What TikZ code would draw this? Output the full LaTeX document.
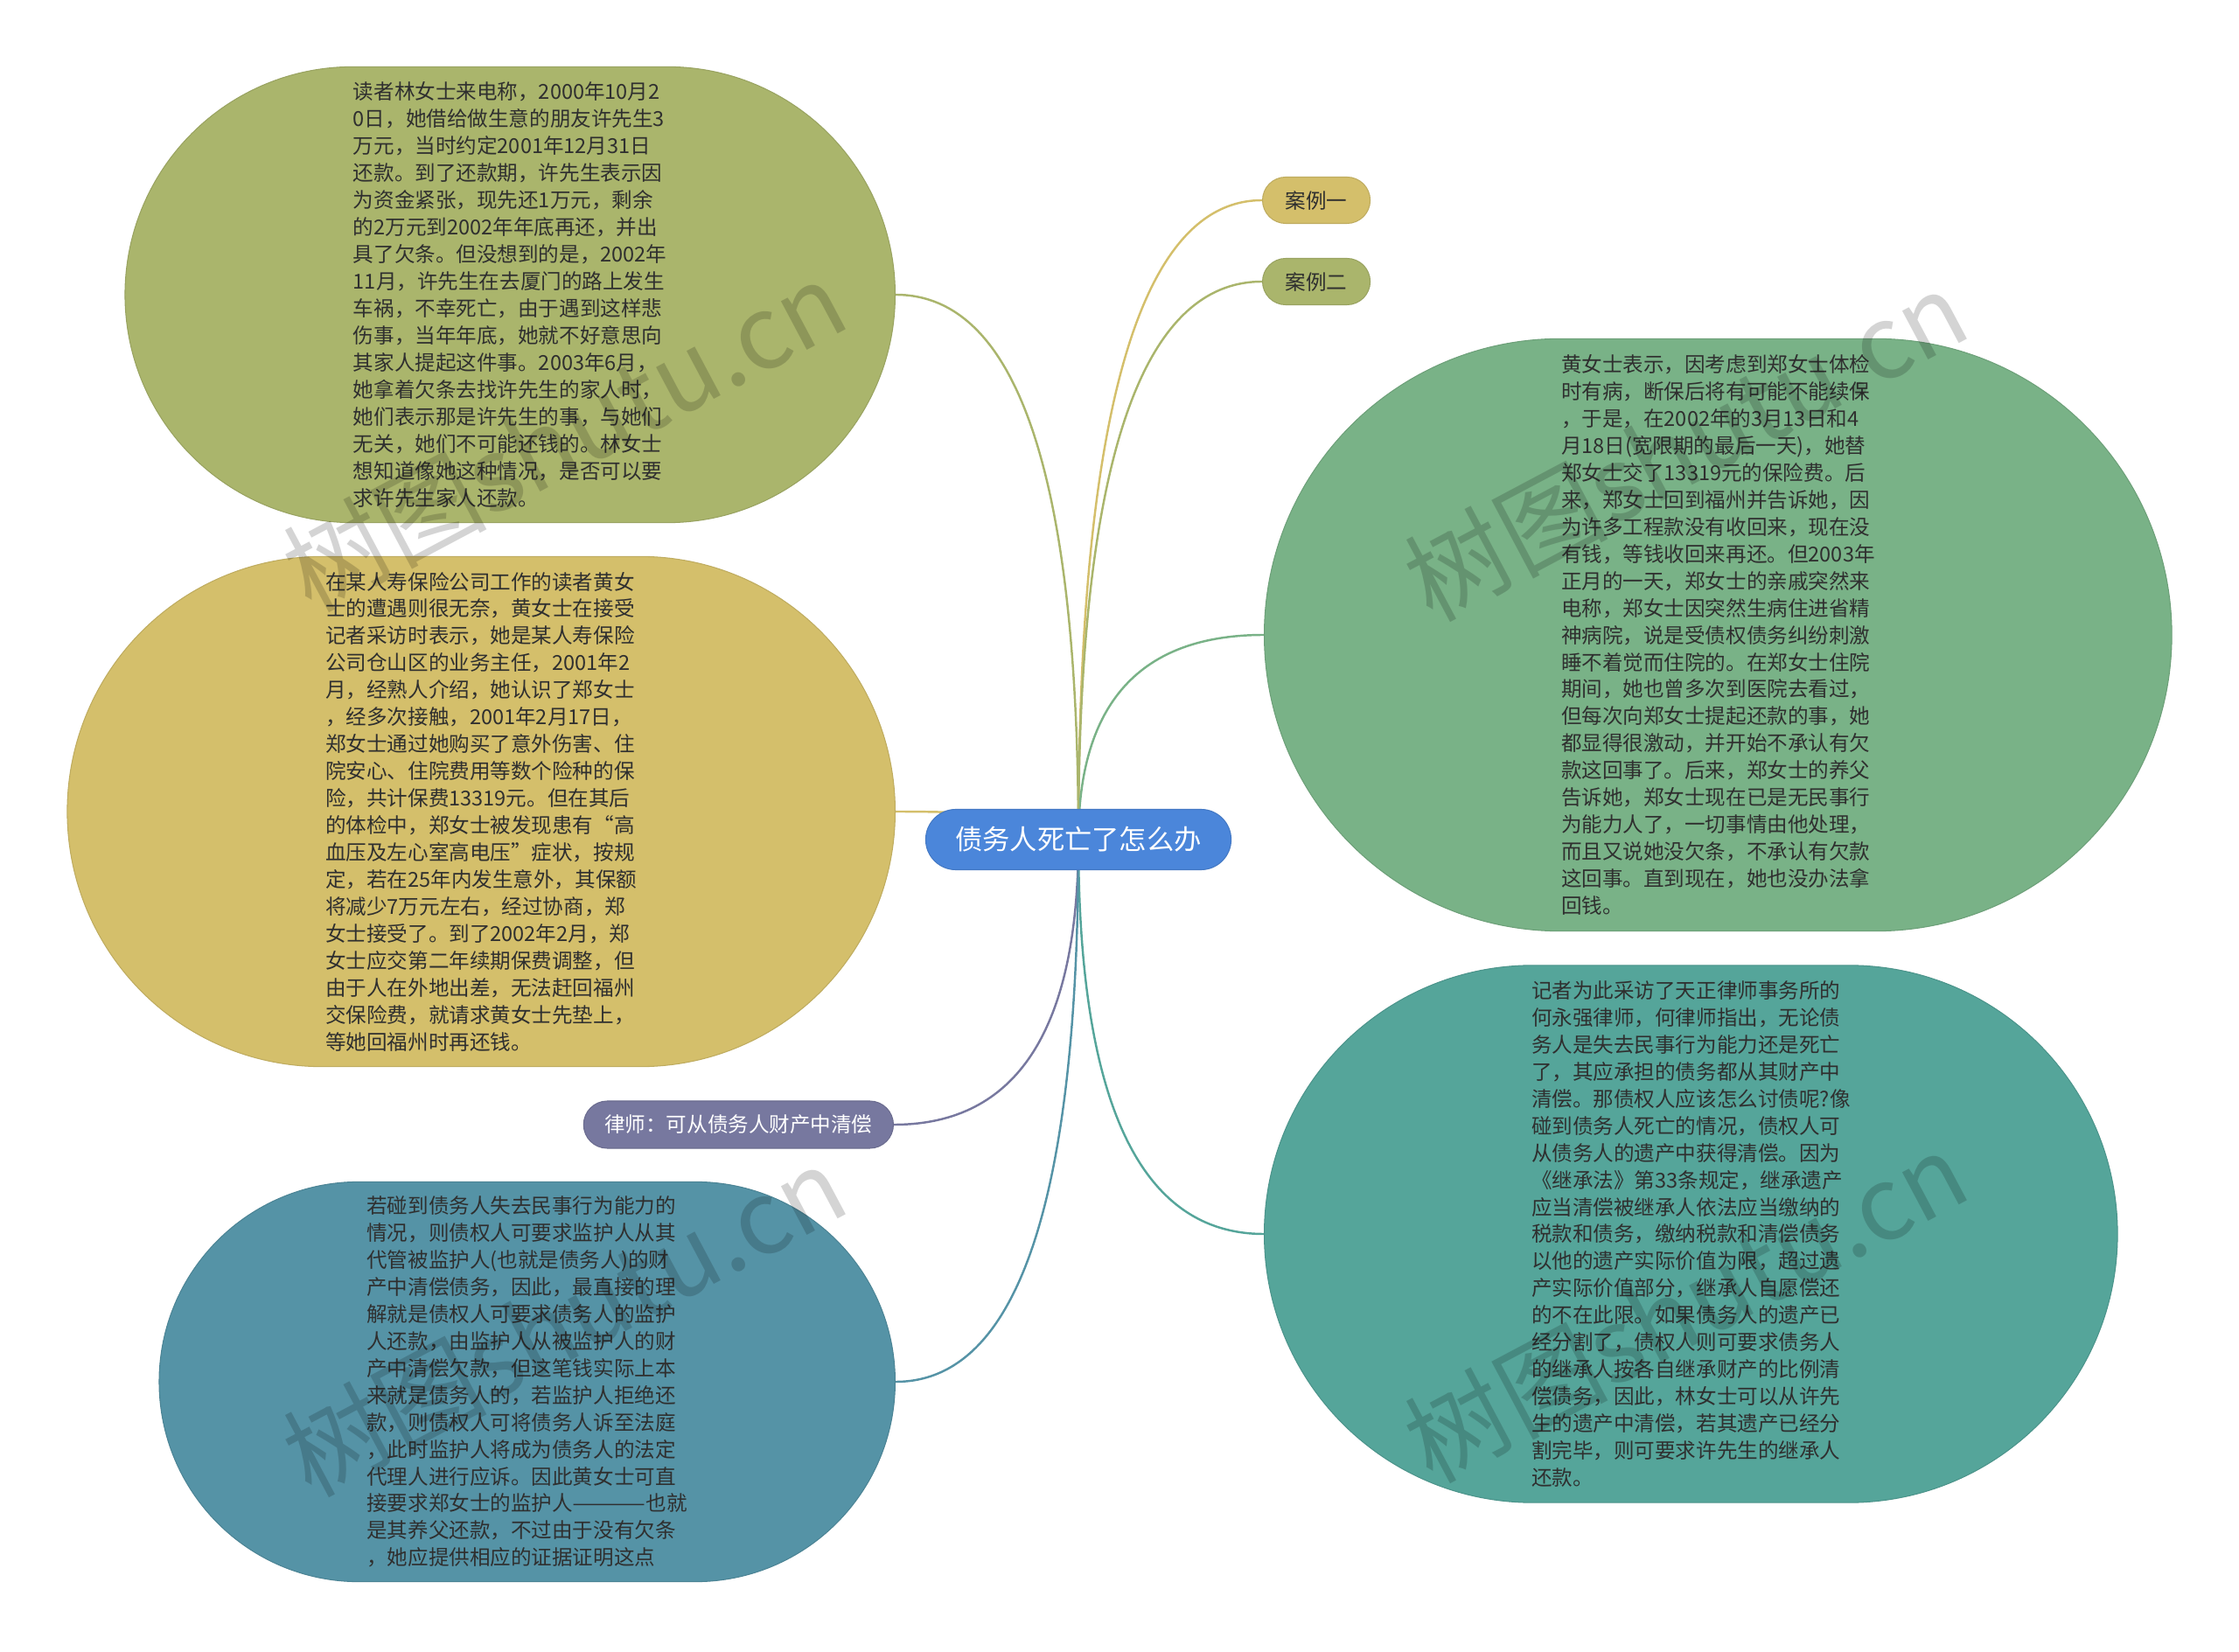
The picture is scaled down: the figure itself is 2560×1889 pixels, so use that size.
\documentclass[tikz,border=0pt]{standalone}
\usepackage{fontspec}
\setmainfont{Noto Sans CJK SC}
\usepackage{xcolor}
\usetikzlibrary{shapes.misc,calc,backgrounds}
\definecolor{mapolive}{HTML}{AAB56C}
\definecolor{mapyellow}{HTML}{D4BF6B}
\definecolor{mapgreen}{HTML}{79B287}
\definecolor{mapteal}{HTML}{55A59A}
\definecolor{mapblue}{HTML}{5593A6}
\definecolor{mappurple}{HTML}{77789F}
\definecolor{maproot}{HTML}{4B86DA}
\definecolor{mapink}{HTML}{2F2F2F}

\begin{document}
\begin{tikzpicture}[
  x=0.01cm,
  y=-0.01cm,
  every node/.style={font=\fontsize{6.7pt}{8.8pt}\selectfont},
  bubble/.style={rounded rectangle, inner sep=0pt, align=left, text=mapink, line width=0.3pt},
  leaf/.style={rounded rectangle, inner sep=0pt, minimum height=0.53cm, line width=0.3pt},
  mapline/.style={line width=0.7pt,
    to path={.. controls ($(\tikztostart)!0.667!(\tikztostart |- \tikztotarget)$)
      and ($(\tikztotarget)!0.667!(\tikztostart |- \tikztotarget)$) .. (\tikztotarget)}},
  wmark/.style={font=\fontsize{33pt}{36pt}\selectfont, text=black, text opacity=0.17, rotate=28}
]
  \useasboundingbox (0,0) rectangle (2560,1889);

  % centre
  \node[rounded rectangle, inner sep=0pt, fill=maproot, draw=maproot!90!black, line width=0.3pt,
        text=white, minimum width=3.49cm, minimum height=0.69cm,
        font=\fontsize{8.9pt}{10pt}\selectfont] (root) at (1233,960) {债务人死亡了怎么办};

  % right side
  \node[leaf, fill=mapyellow, draw=mapyellow!90!black, text=mapink, minimum width=1.23cm,
        anchor=west] (case1) at (1443,229) {案例一};
  \node[leaf, fill=mapolive, draw=mapolive!90!black, text=mapink, minimum width=1.23cm,
        anchor=west] (case2) at (1443,322) {案例二};

  \node[bubble, fill=mapgreen, draw=mapgreen!90!black, minimum width=10.37cm,
        minimum height=6.77cm, anchor=west] (huang) at (1445,726) {%
    黄女士表示，因考虑到郑女士体检\\
    时有病，断保后将有可能不能续保\\
    ，于是，在2002年的3月13日和4\\
    月18日(宽限期的最后一天)，她替\\
    郑女士交了13319元的保险费。后\\
    来，郑女士回到福州并告诉她，因\\
    为许多工程款没有收回来，现在没\\
    有钱，等钱收回来再还。但2003年\\
    正月的一天，郑女士的亲戚突然来\\
    电称，郑女士因突然生病住进省精\\
    神病院，说是受债权债务纠纷刺激\\
    睡不着觉而住院的。在郑女士住院\\
    期间，她也曾多次到医院去看过，\\
    但每次向郑女士提起还款的事，她\\
    都显得很激动，并开始不承认有欠\\
    款这回事了。后来，郑女士的养父\\
    告诉她，郑女士现在已是无民事行\\
    为能力人了，一切事情由他处理，\\
    而且又说她没欠条，不承认有欠款\\
    这回事。直到现在，她也没办法拿\\
    回钱。};

  \node[bubble, fill=mapteal, draw=mapteal!90!black, minimum width=9.75cm,
        minimum height=6.14cm, anchor=west] (lawyer) at (1445,1411) {%
    记者为此采访了天正律师事务所的\\
    何永强律师，何律师指出，无论债\\
    务人是失去民事行为能力还是死亡\\
    了，其应承担的债务都从其财产中\\
    清偿。那债权人应该怎么讨债呢?像\\
    碰到债务人死亡的情况，债权人可\\
    从债务人的遗产中获得清偿。因为\\
    《继承法》第33条规定，继承遗产\\
    应当清偿被继承人依法应当缴纳的\\
    税款和债务，缴纳税款和清偿债务\\
    以他的遗产实际价值为限，超过遗\\
    产实际价值部分，继承人自愿偿还\\
    的不在此限。如果债务人的遗产已\\
    经分割了，债权人则可要求债务人\\
    的继承人按各自继承财产的比例清\\
    偿债务，因此，林女士可以从许先\\
    生的遗产中清偿，若其遗产已经分\\
    割完毕，则可要求许先生的继承人\\
    还款。};

  % left side
  \node[bubble, fill=mapolive, draw=mapolive!90!black, minimum width=8.8cm,
        minimum height=5.21cm, anchor=east] (lin) at (1024,337) {%
    读者林女士来电称，2000年10月2\\
    0日，她借给做生意的朋友许先生3\\
    万元，当时约定2001年12月31日\\
    还款。到了还款期，许先生表示因\\
    为资金紧张，现先还1万元，剩余\\
    的2万元到2002年年底再还，并出\\
    具了欠条。但没想到的是，2002年\\
    11月，许先生在去厦门的路上发生\\
    车祸，不幸死亡，由于遇到这样悲\\
    伤事，当年年底，她就不好意思向\\
    其家人提起这件事。2003年6月，\\
    她拿着欠条去找许先生的家人时，\\
    她们表示那是许先生的事，与她们\\
    无关，她们不可能还钱的。林女士\\
    想知道像她这种情况，是否可以要\\
    求许先生家人还款。};

  \node[bubble, fill=mapyellow, draw=mapyellow!90!black, minimum width=9.46cm,
        minimum height=5.83cm, anchor=east] (insure) at (1024,928) {%
    在某人寿保险公司工作的读者黄女\\
    士的遭遇则很无奈，黄女士在接受\\
    记者采访时表示，她是某人寿保险\\
    公司仓山区的业务主任，2001年2\\
    月，经熟人介绍，她认识了郑女士\\
    ，经多次接触，2001年2月17日，\\
    郑女士通过她购买了意外伤害、住\\
    院安心、住院费用等数个险种的保\\
    险，共计保费13319元。但在其后\\
    的体检中，郑女士被发现患有“高\\
    血压及左心室高电压”症状，按规\\
    定，若在25年内发生意外，其保额\\
    将减少7万元左右，经过协商，郑\\
    女士接受了。到了2002年2月，郑\\
    女士应交第二年续期保费调整，但\\
    由于人在外地出差，无法赶回福州\\
    交保险费，就请求黄女士先垫上，\\
    等她回福州时再还钱。};

  \node[leaf, fill=mappurple, draw=mappurple!90!black, text=white, minimum width=3.54cm,
        minimum height=0.54cm, anchor=east] (advice) at (1022,1286) {律师：可从债务人财产中清偿};

  \node[bubble, fill=mapblue, draw=mapblue!90!black, minimum width=8.41cm,
        minimum height=4.57cm, anchor=east] (guard) at (1024,1580) {%
    若碰到债务人失去民事行为能力的\\
    情况，则债权人可要求监护人从其\\
    代管被监护人(也就是债务人)的财\\
    产中清偿债务，因此，最直接的理\\
    解就是债权人可要求债务人的监护\\
    人还款，由监护人从被监护人的财\\
    产中清偿欠款，但这笔钱实际上本\\
    来就是债务人的，若监护人拒绝还\\
    款，则债权人可将债务人诉至法庭\\
    ，此时监护人将成为债务人的法定\\
    代理人进行应诉。因此黄女士可直\\
    接要求郑女士的监护人\scalebox{1.45}[1]{———}也就\\
    是其养父还款，不过由于没有欠条\\
    ，她应提供相应的证据证明这点};

  % connectors
  \begin{scope}[on background layer]
    \draw[mapline, mapyellow] (root.center) to (case1.west);
    \draw[mapline, mapolive] (root.center) to (case2.west);
    \draw[mapline, mapgreen] (root.center) to (huang.west);
    \draw[mapline, mapteal] (root.center) to (lawyer.west);
    \draw[mapline, mapolive] (root.center) to (lin.east);
    \draw[mapline, mapyellow] (root.center) to (insure.east);
    \draw[mapline, mappurple] (root.center) to (advice.east);
    \draw[mapline, mapblue] (root.center) to (guard.east);
  \end{scope}

  % watermarks
  \node[wmark] (wm1) at (645,498) {树图shutu.cn};
  \node[wmark] (wm2) at (1927,509) {树图shutu.cn};
  \node[wmark] (wm3) at (645,1510) {树图shutu.cn};
  \node[wmark] (wm4) at (1927,1494) {树图shutu.cn};
\end{tikzpicture}
\end{document}
